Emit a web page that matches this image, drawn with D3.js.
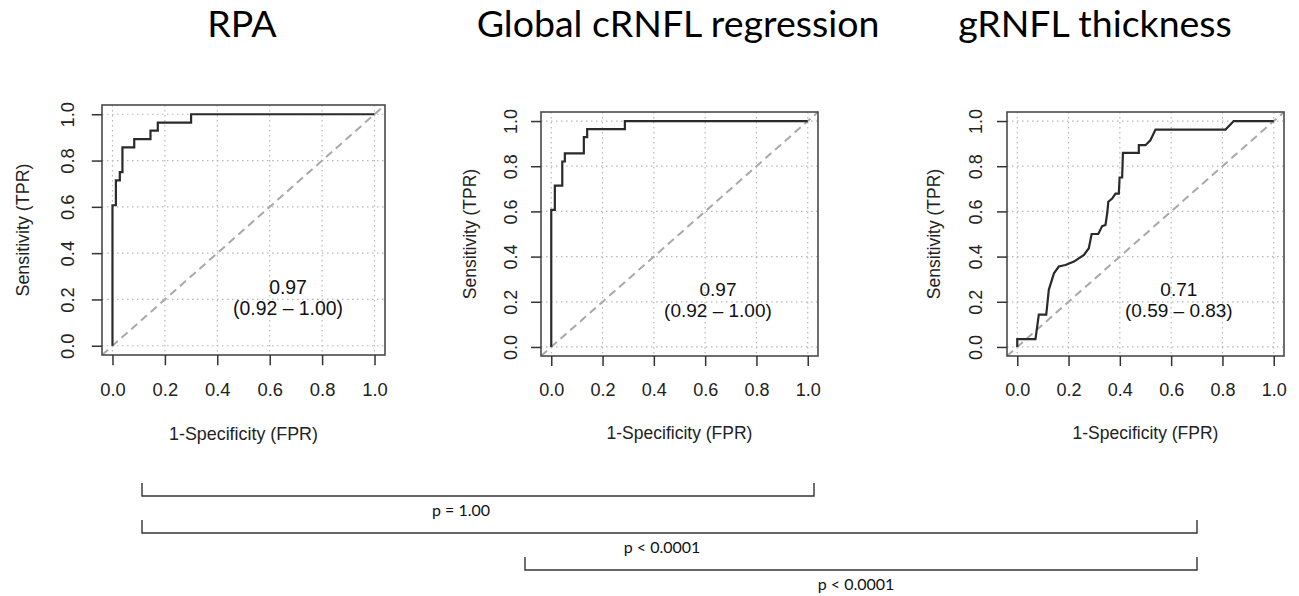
<!DOCTYPE html>
<html>
<head>
<meta charset="utf-8">
<script src="https://cdn.jsdelivr.net/npm/d3@7"></script>
<style>
  body { margin: 0; background: #fff; }
  svg { display: block; }
</style>
</head>
<body>
<svg id="svg1" width="1299" height="596"></svg>
<script>
// ---- data ----
var panelTitles = ["RPA", "Global cRNFL regression", "gRNFL thickness"];
var aucLabels = ["0.97", "0.97", "0.71"];
var ciLabels = ["(0.92 \u2013 1.00)", "(0.92 \u2013 1.00)", "(0.59 \u2013 0.83)"];

// ROC curves (1-specificity, sensitivity)
var rpaFpr = [0, 0, 0.013, 0.013, 0.028, 0.028, 0.038, 0.038, 0.083, 0.083, 0.145, 0.145, 0.173, 0.173, 0.30, 0.30, 1];
var rpaTpr = [0, 0.607, 0.607, 0.714, 0.714, 0.75, 0.75, 0.857, 0.857, 0.893, 0.893, 0.929, 0.929, 0.964, 0.964, 1, 1];

var globalFpr = [0, 0, 0.014, 0.014, 0.043, 0.043, 0.053, 0.053, 0.127, 0.127, 0.14, 0.14, 0.287, 0.287, 1];
var globalTpr = [0, 0.607, 0.607, 0.714, 0.714, 0.821, 0.821, 0.857, 0.857, 0.929, 0.929, 0.964, 0.964, 1, 1];

var grnflFpr = [0, 0, 0.071, 0.084, 0.113, 0.123, 0.143, 0.162, 0.188, 0.221, 0.260, 0.279, 0.290, 0.316, 0.331, 0.344, 0.351, 0.355, 0.370, 0.383, 0.396, 0.399, 0.409, 0.412, 0.474, 0.474, 0.500, 0.519, 0.539, 0.812, 0.844, 1];
var grnflTpr = [0, 0.035, 0.035, 0.143, 0.143, 0.253, 0.326, 0.356, 0.363, 0.378, 0.407, 0.437, 0.500, 0.500, 0.535, 0.540, 0.594, 0.643, 0.657, 0.679, 0.679, 0.750, 0.750, 0.859, 0.859, 0.893, 0.893, 0.915, 0.962, 0.962, 1, 1];

var tickValues = [0, 0.2, 0.4, 0.6, 0.8, 1];
var tickLabels = ["0.0", "0.2", "0.4", "0.6", "0.8", "1.0"];
var xTitle = "1-Specificity (FPR)";
var yTitle = "Sensitivity (TPR)";

// pairwise comparisons (panel index a vs b)
var compA = [0, 0, 1];
var compB = [1, 2, 2];
var pLabels = ["p = 1.00", "p < 0.0001", "p < 0.0001"];

// ---- layout ----
var curves = [
    { fpr: rpaFpr, tpr: rpaTpr },
    { fpr: globalFpr, tpr: globalTpr },
    { fpr: grnflFpr, tpr: grnflTpr }
];
var boxes = [
    { left: 102, top: 105, w: 283, h: 250, titleX: 242, aucX: 0.67, yTick: 28, yLab: 73 },
    { left: 541, top: 112, w: 277, h: 244, titleX: 678, aucX: 0.65, yTick: 24, yLab: 65 },
    { left: 1007, top: 112, w: 277, h: 244, titleX: 1095, aucX: 0.63, yTick: 25, yLab: 67 }
];
var brackets = [
    { x1: 142, x2: 814, y: 496, labelX: 461 },
    { x1: 142, x2: 1197, y: 533, labelX: 662 },
    { x1: 525, x2: 1197, y: 570, labelX: 856 }
];

var svg = d3.select('#svg1');
var axisFont = '"Liberation Sans", Arial, Helvetica, sans-serif';
var titleFont = 'Lato, "Open Sans", sans-serif';

svg.append('defs').selectAll('clipPath')
    .data(boxes)
    .enter().append('clipPath')
    .attr('id', function(d, i) { return 'clip' + i; })
    .append('rect')
    .attr('x', function(d) { return d.left; })
    .attr('y', function(d) { return d.top; })
    .attr('width', function(d) { return d.w; })
    .attr('height', function(d) { return d.h; });

boxes.forEach(function(b, i) {
    var k = b.w / 277; // panel 1 is drawn a bit larger
    var x = d3.scaleLinear().domain([-0.04, 1.04]).range([b.left, b.left + b.w]);
    var y = d3.scaleLinear().domain([-0.04, 1.04]).range([b.top + b.h, b.top]);
    var g = svg.append('g').attr('class', 'panel');

    // title
    svg.append('text')
        .attr('x', b.titleX)
        .attr('y', 37)
        .attr('text-anchor', 'middle')
        .style('font-family', titleFont)
        .style('font-size', '37.5px')
        .attr('fill', '#000')
        .text(panelTitles[i]);

    // grid (dotted)
    g.append('g').selectAll('line.v')
        .data(tickValues)
        .enter().append('line')
        .attr('x1', function(d) { return x(d); })
        .attr('x2', function(d) { return x(d); })
        .attr('y1', b.top)
        .attr('y2', b.top + b.h)
        .attr('stroke', '#b8b8b8')
        .attr('stroke-width', 1.2)
        .attr('stroke-dasharray', '1.5,3.5');
    g.append('g').selectAll('line.h')
        .data(tickValues)
        .enter().append('line')
        .attr('y1', function(d) { return y(d); })
        .attr('y2', function(d) { return y(d); })
        .attr('x1', b.left)
        .attr('x2', b.left + b.w)
        .attr('stroke', '#b8b8b8')
        .attr('stroke-width', 1.2)
        .attr('stroke-dasharray', '1.5,3.5');

    // chance diagonal
    g.append('line')
        .attr('clip-path', 'url(#clip' + i + ')')
        .attr('x1', x(-0.04)).attr('y1', y(-0.04))
        .attr('x2', x(1.04)).attr('y2', y(1.04))
        .attr('stroke', '#a8a8a8')
        .attr('stroke-width', 2)
        .attr('stroke-dasharray', '8,5');

    // ROC curve
    var pts = curves[i].fpr.map(function(f, j) { return [f, curves[i].tpr[j]]; });
    var line = d3.line()
        .x(function(d) { return x(d[0]); })
        .y(function(d) { return y(d[1]); });
    g.append('path')
        .datum(pts)
        .attr('d', line)
        .attr('fill', 'none')
        .attr('stroke', '#2a2a2a')
        .attr('stroke-width', 2.2)
        .attr('stroke-linejoin', 'miter');

    // box
    g.append('rect')
        .attr('x', b.left).attr('y', b.top)
        .attr('width', b.w).attr('height', b.h)
        .attr('fill', 'none')
        .attr('stroke', '#4a4a4a')
        .attr('stroke-width', 1.6);

    // x axis
    var xAxis = d3.axisBottom(x)
        .tickValues(tickValues)
        .tickFormat(function(d, j) { return tickLabels[j]; })
        .tickSize(10 * k)
        .tickPadding(17 * k);
    var gx = g.append('g')
        .attr('transform', 'translate(0,' + (b.top + b.h) + ')')
        .call(xAxis);
    gx.select('.domain').remove();
    gx.selectAll('line').attr('stroke', '#333').attr('stroke-width', 1.5);
    gx.selectAll('text')
        .style('font-family', axisFont)
        .style('font-size', (18 * k) + 'px')
        .attr('fill', '#222');

    // y axis, labels rotated like base R
    var yAxis = d3.axisLeft(y)
        .tickValues(tickValues)
        .tickFormat(function(d, j) { return tickLabels[j]; })
        .tickSize(10 * k);
    var gy = g.append('g')
        .attr('transform', 'translate(' + b.left + ',0)')
        .call(yAxis);
    gy.select('.domain').remove();
    gy.selectAll('line').attr('stroke', '#333').attr('stroke-width', 1.5);
    gy.selectAll('text')
        .attr('transform', 'rotate(-90)')
        .attr('x', 0)
        .attr('y', -b.yTick)
        .attr('dy', 0)
        .attr('text-anchor', 'middle')
        .style('font-family', axisFont)
        .style('font-size', (18 * k) + 'px')
        .attr('fill', '#222');

    // axis titles
    g.append('text')
        .attr('x', x(0.5))
        .attr('y', b.top + b.h + 83 * k)
        .attr('text-anchor', 'middle')
        .style('font-family', axisFont)
        .style('font-size', (17.5 * k) + 'px')
        .attr('fill', '#222')
        .text(xTitle);
    g.append('text')
        .attr('transform', 'translate(' + (b.left - b.yLab) + ',' + y(0.5) + ') rotate(-90)')
        .attr('text-anchor', 'middle')
        .style('font-family', axisFont)
        .style('font-size', (17.5 * k) + 'px')
        .attr('fill', '#222')
        .text(yTitle);

    // AUC with CI
    g.append('text')
        .attr('x', x(b.aucX))
        .attr('y', y(0.255))
        .attr('dy', '0.35em')
        .attr('text-anchor', 'middle')
        .style('font-family', axisFont)
        .style('font-size', (19 * k) + 'px')
        .attr('fill', '#111')
        .text(aucLabels[i]);
    g.append('text')
        .attr('x', x(b.aucX))
        .attr('y', y(0.163))
        .attr('dy', '0.35em')
        .attr('text-anchor', 'middle')
        .style('font-family', axisFont)
        .style('font-size', (19 * k) + 'px')
        .attr('fill', '#111')
        .text(ciLabels[i]);
});

// significance brackets
var br = svg.append('g').attr('class', 'brackets');
br.selectAll('path')
    .data(brackets)
    .enter().append('path')
    .attr('d', function(d) {
        return 'M' + d.x1 + ',' + (d.y - 13) + 'V' + d.y + 'H' + d.x2 + 'V' + (d.y - 13);
    })
    .attr('fill', 'none')
    .attr('stroke', '#333')
    .attr('stroke-width', 1.4);
br.selectAll('text')
    .data(brackets)
    .enter().append('text')
    .attr('x', function(d) { return d.labelX; })
    .attr('y', function(d) { return d.y + 20; })
    .attr('text-anchor', 'middle')
    .style('font-family', titleFont)
    .style('font-size', '16px')
    .attr('fill', '#111')
    .text(function(d, i) { return pLabels[i]; });
</script>
</body>
</html>
